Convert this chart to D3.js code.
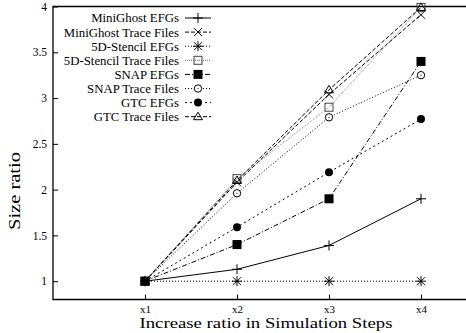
<!DOCTYPE html>
<html>
<head>
<meta charset="utf-8">
<script src="https://cdn.jsdelivr.net/npm/d3@7"></script>
<style>
  body { margin: 0; background: #fff; }
  text { font-family: "Liberation Serif", "Times New Roman", serif; fill: #000; }
</style>
</head>
<body>
<svg id="chart" width="466" height="333"></svg>
<script>
// data
var steps = ["x1", "x2", "x3", "x4"];
var yTicks = [1, 1.5, 2, 2.5, 3, 3.5, 4];

var miniGhostEFGs = [1, 1.13, 1.39, 1.9];
var miniGhostTrace = [1, 2.08, 3.04, 3.91];
var stencilEFGs = [1, 1, 1, 1];
var stencilTrace = [1, 2.12, 2.9, 3.99];
var snapEFGs = [1, 1.4, 1.9, 3.4];
var snapTrace = [1, 1.96, 2.79, 3.25];
var gtcEFGs = [1, 1.59, 2.19, 2.77];
var gtcTrace = [1, 2.1, 3.09, 3.99];

var series = [
  { name: "MiniGhost EFGs", values: miniGhostEFGs, mark: "plus", dash: null, color: "#000" },
  { name: "MiniGhost Trace Files", values: miniGhostTrace, mark: "cross", dash: "4,2", color: "#000" },
  { name: "5D-Stencil EFGs", values: stencilEFGs, mark: "star", dash: "1,2", color: "#000" },
  { name: "5D-Stencil Trace Files", values: stencilTrace, mark: "square", dash: "1,1", color: "#888" },
  { name: "SNAP EFGs", values: snapEFGs, mark: "fsquare", dash: "5,2,1,2", color: "#000" },
  { name: "SNAP Trace Files", values: snapTrace, mark: "circle", dash: "1,2", color: "#000" },
  { name: "GTC EFGs", values: gtcEFGs, mark: "fcircle", dash: "2,3", color: "#000" },
  { name: "GTC Trace Files", values: gtcTrace, mark: "triangle", dash: "4,2", color: "#000" }
];

(function () {
var svg = d3.select("#chart");
var pLeft = 53, pTop = 6.5, pRight = 466, pBottom = 299.5;

var x = d3.scaleLinear().domain([0, 4.5]).range([pLeft, pLeft + 4.5 * 92]);
var y = d3.scaleLinear().domain([0.8, 4]).range([pBottom, pTop]);

// frame (left, top, bottom)
svg.append("path")
  .attr("d", "M" + pRight + "," + pTop + "H" + pLeft + "V" + pBottom + "H" + pRight)
  .attr("fill", "none").attr("stroke", "#000").attr("stroke-width", 1.3);

// y axis ticks (inside)
var yAxis = svg.append("g").attr("transform", "translate(" + pLeft + ",0)")
  .call(d3.axisRight(y).tickValues(yTicks).tickSize(5).tickFormat(d3.format("")));
yAxis.select(".domain").remove();
yAxis.selectAll("text").attr("x", -6).attr("text-anchor", "end")
  .style("font-size", "11.5px").style("font-family", "Liberation Serif");

// x axis ticks (inside)
var xAxis = svg.append("g").attr("transform", "translate(0," + pBottom + ")")
  .call(d3.axisTop(x).tickValues([1, 2, 3, 4]).tickSize(5).tickFormat(function (d) { return steps[d - 1]; }));
xAxis.select(".domain").remove();
xAxis.selectAll("text").attr("y", 13).attr("dy", null)
  .style("font-size", "11px").style("font-family", "Liberation Serif");

// axis titles
svg.append("text").attr("x", 266).attr("y", 328).attr("text-anchor", "middle")
  .attr("textLength", 253).attr("lengthAdjust", "spacingAndGlyphs")
  .style("font-size", "15.5px").text("Increase ratio in Simulation Steps");
svg.append("text").attr("transform", "translate(20,191) rotate(-90)").attr("text-anchor", "middle")
  .attr("textLength", 78).attr("lengthAdjust", "spacingAndGlyphs")
  .style("font-size", "16px").text("Size ratio");

function drawMark(g, type, cx, cy, color) {
  var s = 4;
  if (type == "plus") {
    g.append("path").attr("d", "M" + (cx - s - 1) + "," + cy + "H" + (cx + s + 1) + "M" + cx + "," + (cy - s - 1) + "V" + (cy + s + 1))
      .attr("stroke", color).attr("stroke-width", 1);
  } else if (type == "cross") {
    g.append("path").attr("d", "M" + (cx - s) + "," + (cy - s) + "L" + (cx + s) + "," + (cy + s) + "M" + (cx - s) + "," + (cy + s) + "L" + (cx + s) + "," + (cy - s))
      .attr("stroke", color).attr("stroke-width", 1);
  } else if (type == "star") {
    g.append("path").attr("d", "M" + (cx - s - 1) + "," + cy + "H" + (cx + s + 1) + "M" + cx + "," + (cy - s - 1) + "V" + (cy + s + 1) +
      "M" + (cx - s) + "," + (cy - s) + "L" + (cx + s) + "," + (cy + s) + "M" + (cx - s) + "," + (cy + s) + "L" + (cx + s) + "," + (cy - s))
      .attr("stroke", color).attr("stroke-width", 1);
  } else if (type == "square") {
    g.append("rect").attr("x", cx - s).attr("y", cy - s).attr("width", 2 * s).attr("height", 2 * s)
      .attr("fill", "none").attr("stroke", "#444").attr("stroke-width", 1);
  } else if (type == "fsquare") {
    g.append("rect").attr("x", cx - s - 0.5).attr("y", cy - s - 0.5).attr("width", 2 * s + 1).attr("height", 2 * s + 1)
      .attr("fill", "#000");
  } else if (type == "circle") {
    g.append("circle").attr("cx", cx).attr("cy", cy).attr("r", 3.7).attr("fill", "#fff").attr("stroke", color).attr("stroke-width", 1);
    g.append("circle").attr("cx", cx).attr("cy", cy).attr("r", 0.6).attr("fill", color);
  } else if (type == "fcircle") {
    g.append("circle").attr("cx", cx).attr("cy", cy).attr("r", 4).attr("fill", "#000");
  } else if (type == "triangle") {
    g.append("path").attr("d", "M" + cx + "," + (cy - s - 0.5) + "L" + (cx + s + 0.5) + "," + (cy + s - 1) + "L" + (cx - s - 0.5) + "," + (cy + s - 1) + "Z")
      .attr("fill", "none").attr("stroke", color).attr("stroke-width", 1);
  }
}

var line = d3.line().x(function (d, i) { return x(i + 1); }).y(function (d) { return y(d); });

var plot = svg.append("g");
series.forEach(function (s) {
  plot.append("path").datum(s.values).attr("d", line)
    .attr("fill", "none").attr("stroke", s.color).attr("stroke-width", 1)
    .attr("stroke-dasharray", s.dash);
});
series.forEach(function (s) {
  var g = plot.append("g");
  s.values.forEach(function (v, i) { drawMark(g, s.mark, x(i + 1), y(v), "#000"); });
});

// legend
var legend = svg.append("g");
series.forEach(function (s, i) {
  var ly = 18 + i * 14.1;
  legend.append("text").attr("x", 179).attr("y", ly).attr("dy", "0.35em").attr("text-anchor", "end")
    .style("font-size", "12.8px").text(s.name);
  legend.append("line").attr("x1", 185).attr("x2", 211).attr("y1", ly).attr("y2", ly)
    .attr("stroke", s.color == "#888" ? "#666" : "#000").attr("stroke-width", 1).attr("stroke-dasharray", s.dash);
  drawMark(legend, s.mark, 198, ly, "#000");
});
})();
</script>
</body>
</html>
